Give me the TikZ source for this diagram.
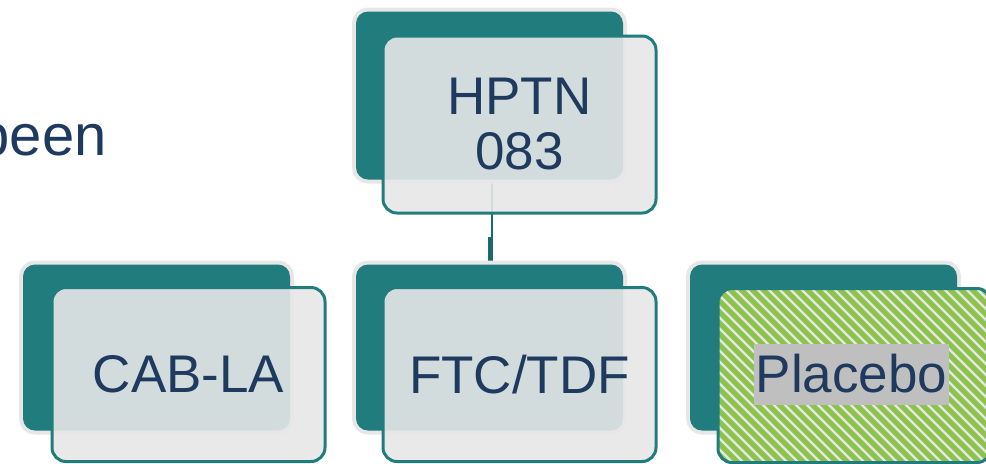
\documentclass[tikz,border=0pt]{standalone}
\usepackage{fontspec}
\setmainfont{Liberation Sans}
\usetikzlibrary{positioning,backgrounds}

\definecolor{smartteal}{HTML}{217C7D}
\definecolor{halogrey}{HTML}{E7E7E7}
\definecolor{textblue}{HTML}{1F3A5F}
\definecolor{stripegreen}{HTML}{8CC34B}
\definecolor{hilitegrey}{HTML}{BFBFBF}

\tikzset{
	backbox/.style={rectangle, rounded corners=6pt, fill=smartteal, inner sep=0pt,
		minimum width=133.5pt, minimum height=83pt,
		preaction={draw=halogrey, line width=4pt}},
	frontbox/.style={rectangle, rounded corners=7pt, draw=smartteal, line width=1.5pt,
		fill=halogrey, fill opacity=0.9, text opacity=1, inner sep=0pt,
		minimum width=136.5pt, minimum height=87pt,
		text=textblue, font=\fontsize{26.5}{27.5}\selectfont, align=center},
	stripes/.style={fill opacity=1, path picture={
		\foreach \k in {-20,...,32}
			\draw[stripegreen, line width=2.5pt]
				([xshift=\k*5.5pt]path picture bounding box.north west) -- ++(110pt,-110pt);
	}},
	link/.style={draw=smartteal!85!black, line width=0.6pt},
}

\begin{document}
\begin{tikzpicture}[x=0.5pt, y=-0.5pt]
	\useasboundingbox (0,0) rectangle (986,463);

	\node[anchor=base east, inner sep=0pt, text=textblue, font=\fontsize{29}{30}\selectfont] (been) at (107,155) {been};

	% back cards
	\node[backbox, minimum height=84pt] (topback) at (489.5,95.5) {};
	\node[backbox] (cabback) at (156.5,347.5) {};
	\node[backbox] (ftcback) at (489.5,347.5) {};
	\node[backbox] (plaback) at (823.5,347.5) {};

	% connector
	\coordinate (elbow) at (492,237);
	\coordinate (stub) at (490.5,237);
	\begin{scope}[on background layer]
		\draw[link] (topback.south -| elbow) -- (ftcback.north -| elbow);
		\draw[link, line width=2.5pt] (stub) -- (ftcback.north -| stub);
	\end{scope}

	% front cards
	\node[frontbox, minimum height=88.5pt] (topfront) at ([shift={(30,29)}]topback.center) {HPTN\\083};
	\node[frontbox] (cabfront) at ([shift={(32,27)}]cabback.center) {CAB-LA};
	\node[frontbox] (ftcfront) at ([shift={(30,27)}]ftcback.center) {FTC/TDF};
	\node[frontbox, stripes] (plafront) at ([shift={(31,28)}]plaback.center) {};
	\node[fill=hilitegrey, inner xsep=1pt, inner ysep=0pt, minimum height=30.5pt,
		text=textblue, font=\fontsize{26.5}{27.5}\selectfont] (plalabel)
		at ([shift={(-3,-1.5)}]plafront.center) {Placebo};
\end{tikzpicture}
\end{document}
